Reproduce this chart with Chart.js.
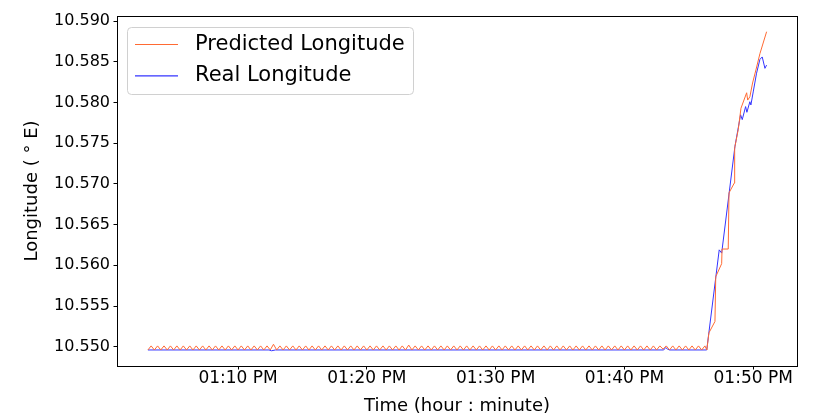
<!DOCTYPE html>
<html>
<head>
<meta charset="utf-8">
<script src="https://cdn.jsdelivr.net/npm/chart.js@4/dist/chart.umd.min.js"></script>
<style>
  html, body { margin: 0; padding: 0; background: #fff; }
  canvas { display: block; }
</style>
</head>
<body>
<canvas id="chart" width="831" height="419"></canvas>
<script>
// Time in minutes after 01:00 PM
const predTimes = [
  3, 3.25, 3.5, 3.75, 4, 4.25, 4.5, 4.75, 5, 5.25, 5.5, 5.75,
  6, 6.25, 6.5, 6.75, 7, 7.25, 7.5, 7.75, 8, 8.25, 8.5, 8.75,
  9, 9.25, 9.5, 9.75, 10, 10.25, 10.5, 10.75, 11, 11.25, 11.5, 11.75,
  12, 12.25, 12.5, 12.75, 13, 13.25, 13.5, 13.75, 14, 14.25, 14.5, 14.75,
  15, 15.25, 15.5, 15.75, 16, 16.25, 16.5, 16.75, 17, 17.25, 17.5, 17.75,
  18, 18.25, 18.5, 18.75, 19, 19.25, 19.5, 19.75, 20, 20.25, 20.5, 20.75,
  21, 21.25, 21.5, 21.75, 22, 22.25, 22.5, 22.75, 23, 23.25, 23.5, 23.75,
  24, 24.25, 24.5, 24.75, 25, 25.25, 25.5, 25.75, 26, 26.25, 26.5, 26.75,
  27, 27.25, 27.5, 27.75, 28, 28.25, 28.5, 28.75, 29, 29.25, 29.5, 29.75,
  30, 30.25, 30.5, 30.75, 31, 31.25, 31.5, 31.75, 32, 32.25, 32.5, 32.75,
  33, 33.25, 33.5, 33.75, 34, 34.25, 34.5, 34.75, 35, 35.25, 35.5, 35.75,
  36, 36.25, 36.5, 36.75, 37, 37.25, 37.5, 37.75, 38, 38.25, 38.5, 38.75,
  39, 39.25, 39.5, 39.75, 40, 40.25, 40.5, 40.75, 41, 41.25, 41.5, 41.75,
  42, 42.25, 42.5, 42.75, 43, 43.25, 43.5, 43.75, 44, 44.25, 44.5, 44.75,
  45, 45.25, 45.5, 45.75, 46, 46.25, 46.4,
  46.56, 47.03, 47.09, 47.55, 47.58, 48.06, 48.12, 48.53, 48.56, 48.84,
  49.05, 49.49, 49.57, 49.74, 49.95, 50.21, 50.52, 51.04
];
const predValues = [
  10.5496, 10.5501, 10.5496, 10.5501, 10.5496, 10.5501, 10.5496, 10.5501, 10.5496, 10.5501, 10.5496, 10.5501,
  10.5496, 10.5501, 10.5496, 10.5501, 10.5496, 10.5501, 10.5496, 10.5501, 10.5496, 10.5501, 10.5496, 10.5501,
  10.5496, 10.5501, 10.5496, 10.5501, 10.5496, 10.5501, 10.5496, 10.5501, 10.5496, 10.5501, 10.5496, 10.5501,
  10.5496, 10.5501, 10.5496, 10.5503, 10.5496, 10.5501, 10.5496, 10.5501, 10.5496, 10.5501, 10.5496, 10.5501,
  10.5496, 10.5501, 10.5496, 10.5501, 10.5496, 10.5501, 10.5496, 10.5501, 10.5496, 10.5501, 10.5496, 10.5501,
  10.5496, 10.5501, 10.5496, 10.5501, 10.5496, 10.5501, 10.5496, 10.5501, 10.5496, 10.5501, 10.5496, 10.5501,
  10.5496, 10.5501, 10.5496, 10.5501, 10.5496, 10.5501, 10.5496, 10.5501, 10.5496, 10.5502, 10.5496, 10.5501,
  10.5496, 10.5501, 10.5496, 10.5501, 10.5496, 10.5501, 10.5496, 10.5501, 10.5496, 10.5501, 10.5496, 10.5501,
  10.5496, 10.5501, 10.5496, 10.5501, 10.5496, 10.5501, 10.5496, 10.5501, 10.5496, 10.5501, 10.5496, 10.5501,
  10.5496, 10.5501, 10.5496, 10.5501, 10.5496, 10.5501, 10.5496, 10.5501, 10.5496, 10.5501, 10.5496, 10.5501,
  10.5496, 10.5501, 10.5496, 10.5501, 10.5496, 10.5501, 10.5496, 10.5501, 10.5496, 10.5501, 10.5496, 10.5501,
  10.5496, 10.5501, 10.5496, 10.5501, 10.5496, 10.5501, 10.5496, 10.5501, 10.5496, 10.5501, 10.5496, 10.5501,
  10.5496, 10.5501, 10.5496, 10.5501, 10.5496, 10.5501, 10.5496, 10.5501, 10.5496, 10.5501, 10.5496, 10.5501,
  10.5496, 10.5501, 10.5496, 10.5501, 10.5497, 10.5501, 10.5496, 10.5501, 10.5496, 10.5501, 10.5496, 10.5501,
  10.5496, 10.5501, 10.5496, 10.5501, 10.5496, 10.5501, 10.5496,
  10.5517, 10.5531, 10.5586, 10.5602, 10.5620, 10.5620, 10.5689, 10.5701, 10.5744, 10.5767,
  10.5793, 10.5812, 10.5803, 10.5807, 10.5824, 10.5840, 10.5860, 10.5887
];

const realTimes = [
  3, 12.4, 12.6, 12.9, 43.05, 43.2, 43.35, 43.5, 46.39,
  47.36, 47.55, 48.58, 49.02, 49.15, 49.41, 49.51, 49.74, 49.82,
  50.0, 50.26, 50.52, 50.70, 50.91, 51.04
];
const realValues = [
  10.5496, 10.5496, 10.5495, 10.5496, 10.5496, 10.5499, 10.5497, 10.5496, 10.5496,
  10.5619, 10.5615, 10.5746, 10.5785, 10.5779, 10.5795, 10.5788, 10.5801, 10.5797,
  10.5813, 10.5836, 10.5853, 10.5856, 10.5842, 10.5846
];

const xTickValues = [10, 20, 30, 40, 50];
const yTickValues = [10.550, 10.555, 10.560, 10.565, 10.570, 10.575, 10.580, 10.585, 10.590];

const FONT = "'DejaVu Sans', sans-serif";

function toPoints(xs, ys) {
  return xs.map((x, i) => ({ x: x, y: ys[i] }));
}

// frame round the plot area + legend box inside it
const framePlugin = {
  id: 'frame',
  afterDraw(chart) {
    const { ctx, chartArea: a } = chart;
    ctx.save();
    ctx.strokeStyle = '#000';
    ctx.lineWidth = 1;
    ctx.strokeRect(Math.round(a.left) + 0.5, Math.round(a.top) + 0.5,
      Math.round(a.right - a.left), Math.round(a.bottom - a.top));

    // legend
    const bx = 127.5, by = 27.5, bw = 286, bh = 67;
    ctx.beginPath();
    ctx.roundRect(bx, by, bw, bh, 4);
    ctx.fillStyle = 'rgba(255,255,255,0.8)';
    ctx.fill();
    ctx.strokeStyle = '#d0d0d0';
    ctx.stroke();

    ctx.font = '21px ' + FONT;
    ctx.textBaseline = 'middle';
    ctx.fillStyle = '#000';
    chart.data.datasets.forEach((ds, i) => {
      const y = 44.5 + i * 31.3;
      ctx.beginPath();
      ctx.moveTo(135, y);
      ctx.lineTo(178, y);
      ctx.strokeStyle = ds.borderColor;
      ctx.lineWidth = 1.2;
      ctx.stroke();
      ctx.fillText(ds.label, 195, y);
    });
    ctx.restore();
  }
};

new Chart(document.getElementById('chart'), {
  type: 'line',
  data: {
    datasets: [{
      label: 'Predicted Longitude',
      data: toPoints(predTimes, predValues),
      borderColor: '#ff6a33',
      borderWidth: 1,
      pointRadius: 0,
      tension: 0
    }, {
      label: 'Real Longitude',
      data: toPoints(realTimes, realValues),
      borderColor: '#3434ff',
      borderWidth: 1,
      pointRadius: 0,
      tension: 0
    }]
  },
  options: {
    responsive: false,
    animation: false,
    devicePixelRatio: 1,
    layout: { padding: { left: 0, right: 34, top: 16, bottom: 0 } },
    plugins: {
      legend: { display: false },
      tooltip: { enabled: false }
    },
    scales: {
      x: {
        type: 'linear',
        min: 0.6,
        max: 53.4,
        afterBuildTicks: scale => { scale.ticks = xTickValues.map(v => ({ value: v })); },
        afterFit: scale => { scale.height = 53; },
        border: { display: false },
        grid: { drawOnChartArea: false, drawTicks: true, tickLength: 3.5, color: '#000' },
        ticks: {
          color: '#000',
          font: { family: FONT, size: 17 },
          padding: -1,
          maxRotation: 0,
          callback: v => '01:' + String(v).padStart(2, '0') + ' PM'
        },
        title: {
          display: true,
          text: 'Time (hour : minute)',
          color: '#000',
          font: { family: FONT, size: 18 },
          padding: { top: 0, bottom: 2 }
        }
      },
      y: {
        type: 'linear',
        min: 10.54763,
        max: 10.59063,
        afterBuildTicks: scale => { scale.ticks = yTickValues.map(v => ({ value: v })); },
        afterFit: scale => { scale.width = 117; },
        border: { display: false },
        grid: { drawOnChartArea: false, drawTicks: true, tickLength: 3.5, color: '#000' },
        ticks: {
          color: '#000',
          font: { family: FONT, size: 16 },
          padding: 3.5,
          callback: v => v.toFixed(3)
        },
        title: {
          display: true,
          text: 'Longitude ( \u00b0 E)',
          color: '#000',
          font: { family: FONT, size: 18 },
          padding: { top: 22, bottom: 0 }
        }
      }
    }
  },
  plugins: [framePlugin]
});
</script>
</body>
</html>
